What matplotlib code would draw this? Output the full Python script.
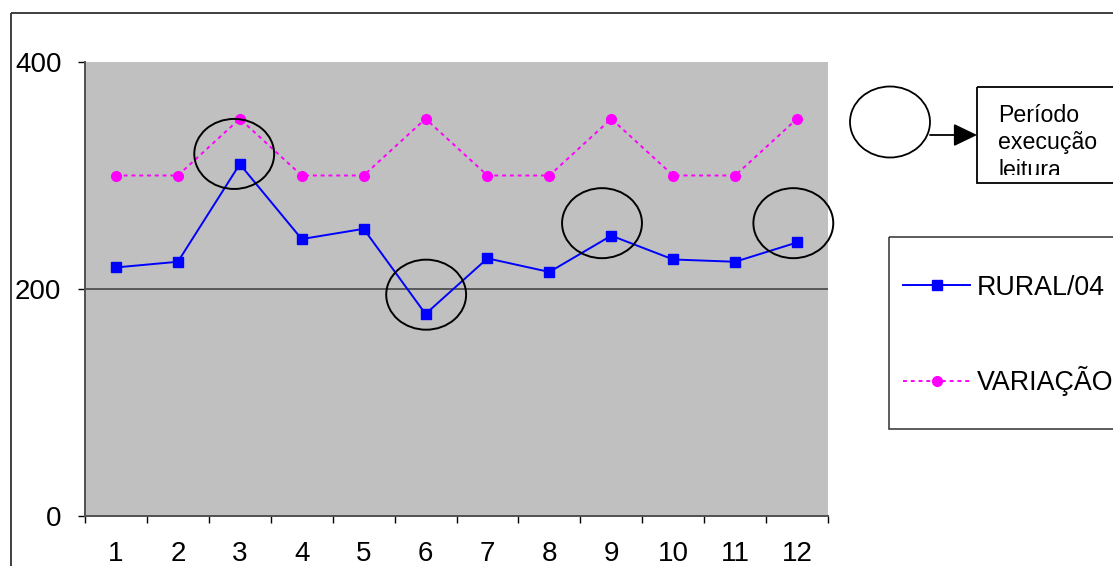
import matplotlib
matplotlib.use('Agg')
import matplotlib.pyplot as plt
from matplotlib.patches import Ellipse, Rectangle
from matplotlib.transforms import Bbox

plt.rcParams['font.family'] = ['Liberation Sans', 'DejaVu Sans']

# data
meses = [1, 2, 3, 4, 5, 6, 7, 8, 9, 10, 11, 12]
rural04 = [219, 224, 310, 244, 253, 178, 227, 215, 247, 226, 224, 241]
variacao = [300, 300, 350, 300, 300, 350, 300, 300, 350, 300, 300, 350]
yticks = [0, 200, 400]
# highlighted months (ellipse centres, category / value)
destaques = [(2.91, 319), (6.01, 195), (8.85, 258), (11.94, 258)]

W, H = 1113, 566
fig = plt.figure(figsize=(W / 100, H / 100), dpi=100)
ax = fig.add_axes([85 / W, 1 - 516 / H, (828 - 85) / W, (516 - 62) / H])
ax.set_facecolor('#C0C0C0')

for t in yticks[1:-1]:
    ax.axhline(t, color='#505050', lw=1.3, zorder=1)

ax.plot(meses, variacao, color='#FF00FF', lw=1.4, ls=(0, (2, 2)),
        marker='o', ms=7, label='VARIAÇÃO', zorder=2)
ax.plot(meses, rural04, color='#0000FF', lw=1.4,
        marker='s', ms=7.2, label='RURAL/04', zorder=3)

for cx, cy in destaques:
    ax.add_patch(Ellipse((cx, cy), 1.29, 61.7, fill=False, ec='black',
                         lw=1.4, zorder=4, clip_on=False))

ax.set_xlim(0.5, 12.5)
ax.set_ylim(0, 400)
ax.set_yticks(yticks)
ax.set_xticks(meses)
ax.set_xticks([m + 0.5 for m in [0] + meses], minor=True)
ax.tick_params(axis='y', length=5, width=1, color='black', pad=12,
               labelsize=20)
ax.tick_params(axis='x', which='major', length=0, pad=18, labelsize=20)
ax.tick_params(axis='x', which='minor', length=5, width=1, color='black')
for s in ['top', 'right']:
    ax.spines[s].set_visible(False)
for s in ['left', 'bottom']:
    ax.spines[s].set_color('#505050')
    ax.spines[s].set_linewidth(1.4)

h, l = ax.get_legend_handles_labels()
leg = ax.legend(h[::-1], l[::-1], loc='center left',
                bbox_to_anchor=(903 / W, 1 - 335.5 / H),
                bbox_transform=fig.transFigure, frameon=False,
                fontsize=19.3, borderpad=0, borderaxespad=0,
                handlelength=2.5, handletextpad=0.25, labelspacing=2.45)

# overlay in pixel coordinates for frames and the key drawing
ov = fig.add_axes([0, 0, 1, 1], zorder=5)
ov.set_xlim(0, W)
ov.set_ylim(H, 0)
ov.axis('off')
ov.patch.set_alpha(0)

ov.add_patch(Rectangle((11, 13), 1200, 700, fill=False, ec='#303030', lw=1.3))
ov.add_patch(Rectangle((889, 237), 400, 192, fill=False, ec='#303030', lw=1.1))

ov.add_patch(Ellipse((890, 122), 80, 71, fill=False, ec='black', lw=1.3))
ov.annotate('', xy=(977, 135), xytext=(930, 135),
            arrowprops=dict(arrowstyle='-|>,head_length=1.45,head_width=0.7',
                            color='black', lw=1.3, shrinkA=0, shrinkB=0))
ov.add_patch(Rectangle((977, 87), 300, 96, fill=False, ec='black', lw=1.3))
txt = ov.text(998, 104, 'Período\nexecução\nleitura', fontsize=16.7,
              va='top', ha='left', linespacing=1.24)
txt.set_clip_box(Bbox.from_extents(978, H - 175, W, H - 88))
txt.set_clip_on(True)

fig.savefig('out.png', dpi=100)
